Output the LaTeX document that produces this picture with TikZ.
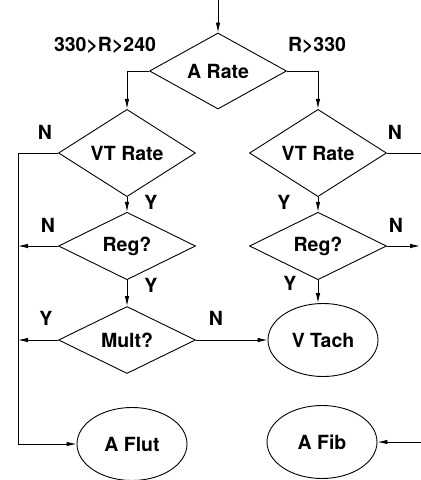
\documentclass[tikz,border=0pt]{standalone}
\usepackage{fontspec}
\setmainfont{TeX Gyre Heros}
\usetikzlibrary{shapes.geometric,arrows.meta}

\begin{document}
\begin{tikzpicture}[x=1pt, y=-1pt, font=\fontsize{19.5}{22}\selectfont\bfseries, line width=0.9pt, >={Latex[length=10pt,width=4.5pt]}]
        \tikzstyle{decision}=[diamond, draw, inner sep=0pt, minimum width=137pt, minimum height=67pt]
        \tikzstyle{outcome}=[ellipse, draw, inner sep=0pt, minimum width=110pt, minimum height=73pt]
        \tikzstyle{lab}=[inner sep=1pt]
        \useasboundingbox (0,0) rectangle (421,480);
        % decisions
        \node [decision] (arate) at (218,71) {A Rate};
        \node [decision] (vtl) at (127,153) {VT Rate};
        \node [decision] (vtr) at (318,153) {VT Rate};
        \node [decision] (regl) at (127,246) {Reg?};
        \node [decision] (regr) at (318,246) {Reg?};
        \node [decision] (mult) at (127,340) {Mult?};
        % outcomes
        \node [outcome] (vtach) at (323,340) {V Tach};
        \node [outcome] (aflut) at (132,444) {A Flut};
        \node [outcome] (afib) at (322,442) {A Fib};
        % free ends
        \coordinate (entry) at (218,0);
        \coordinate (bus) at (18,153);
        \coordinate (vtout) at (421,153);
        \coordinate (regout) at (420,246);
        \coordinate (fibin) at (421,442);
        % connectors
        \draw [->] (entry) -- (arate.north);
        \draw [->] (arate.west) -| (vtl.north);
        \draw [->] (arate.east) -| (vtr.north);
        \draw [->] (vtl.west) -- (bus) |- (aflut.west);
        \draw [->] (vtl.south) -- (regl.north);
        \draw [->] (regl.west) -- (regl.west -| bus);
        \draw [->] (regl.south) -- (mult.north);
        \draw [->] (mult.west) -- (mult.west -| bus);
        \draw [->] (mult.east) -- (vtach.west);
        \draw (vtr.east) -- (vtout);
        \draw [->] (vtr.south) -- (regr.north);
        \draw [->] (regr.east) -- (regout);
        \draw [->] (regr.south) -- (vtach.north -| regr.south);
        \draw [->] (fibin) -- (afib.east);
        % labels
        \node [lab] (lrange) at (105,45) {330>R>240};
        \node [lab] (rrange) at (317,45) {R>330};
        \node [lab] (vtln) at (45,132) {N};
        \node [lab] (vtrn) at (395,132) {N};
        \node [lab] (vtly) at (151,202) {Y};
        \node [lab] (vtry) at (284,202) {Y};
        \node [lab] (regln) at (48,225) {N};
        \node [lab] (regrn) at (396,225) {N};
        \node [lab] (regly) at (151,285) {Y};
        \node [lab] (regry) at (290,283) {Y};
        \node [lab] (multy) at (46,318) {Y};
        \node [lab] (multn) at (216,318) {N};
\end{tikzpicture}
\end{document}
